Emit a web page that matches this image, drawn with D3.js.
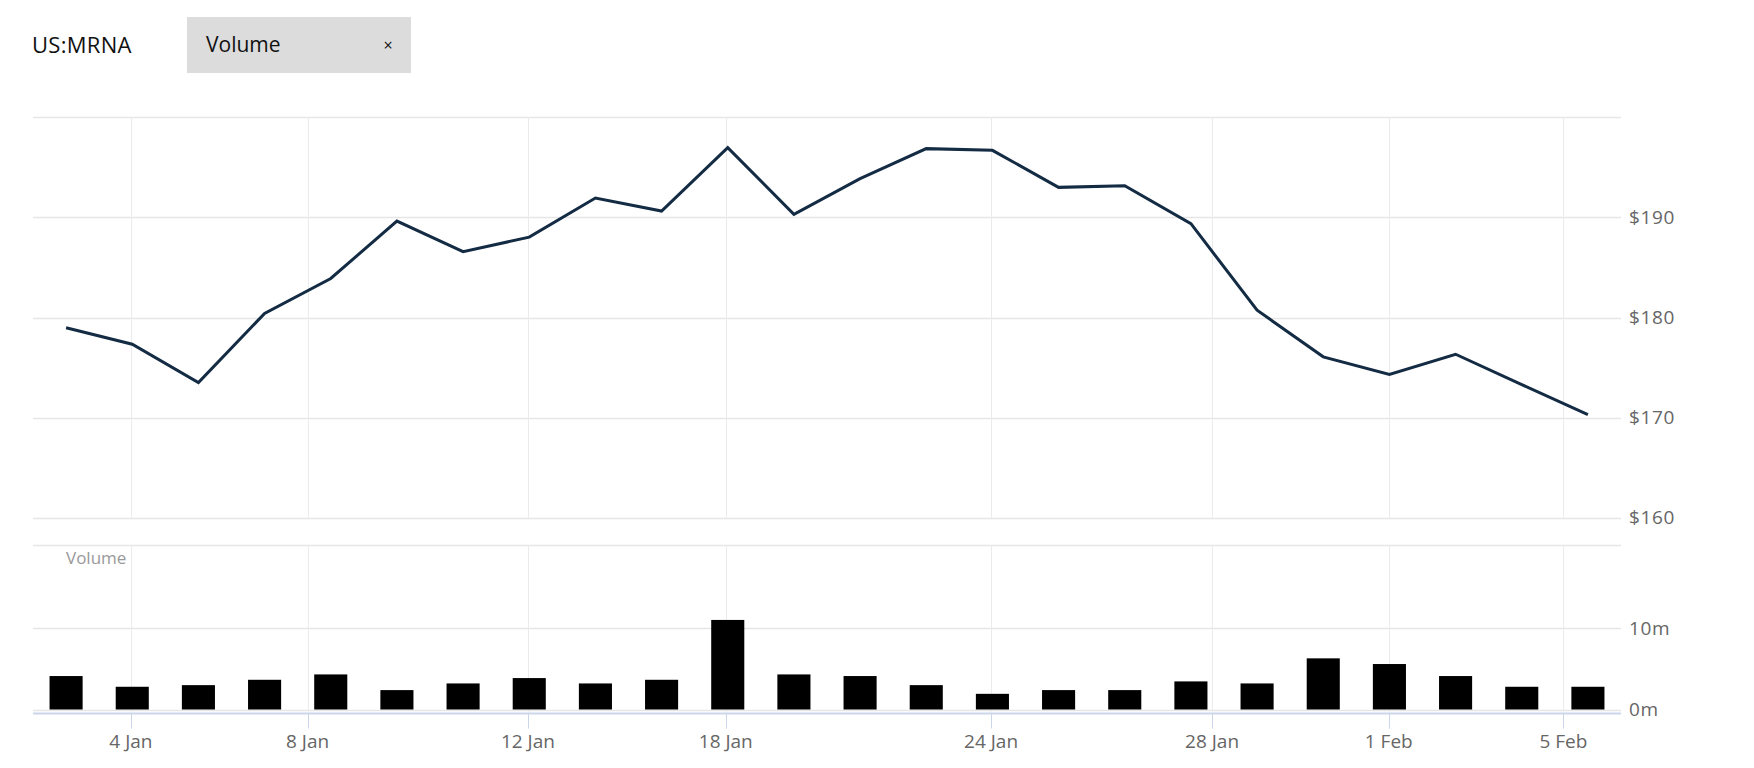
<!DOCTYPE html>
<html>
<head>
<meta charset="utf-8">
<script src="https://cdn.jsdelivr.net/npm/d3@7"></script>
<style>
  html, body { margin: 0; padding: 0; background: #ffffff; }
  svg { display: block; font-family: "Open Sans", "Noto Sans", sans-serif; }
</style>
</head>
<body>
<svg id="chart" width="1754" height="768"></svg>
<script>
// ---- data ----
const symbol = "US:MRNA";
const indicatorName = "Volume";
const prices = [178.97, 177.33, 173.5, 180.4, 183.9, 189.63, 186.57, 188.03, 191.93, 190.63, 196.97, 190.3,
                193.87, 196.87, 196.7, 193.0, 193.17, 189.37, 180.73, 176.07, 174.3, 176.33, 173.3, 170.3];
const volumes = [4.12, 2.80, 3.0, 3.66, 4.32, 2.39, 3.21, 3.87, 3.21, 3.66, 11.03, 4.32,
                 4.12, 3.0, 1.93, 2.39, 2.39, 3.46, 3.21, 6.30, 5.60, 4.12, 2.80, 2.80]; // millions
const tickLabels = ["4 Jan", "8 Jan", "12 Jan", "18 Jan", "24 Jan", "28 Jan", "1 Feb", "5 Feb"];
const tickIndex = [0.98, 3.65, 6.98, 9.97, 13.98, 17.32, 19.99, 22.63]; // position in data-point units
const priceGrid = [160, 170, 180, 190, 200];
const priceLabels = [160, 170, 180, 190];
const volumeGrid = [0, 10];
const volumeLabels = [0, 10];

// ---- layout ----
const svg = d3.select("#chart");
const left = 33, right = 1621;
const priceTop = 117.3, priceBottom = 517.7;
const volTop = 545.5, volBottom = 709.5, axisY = 713.5;

const x = d3.scaleLinear().domain([-0.5, prices.length - 0.5]).range([left, right]);
const yP = d3.scaleLinear().domain([160, 200]).range([priceBottom, priceTop]);
const yV = d3.scaleLinear().domain([0, 10]).range([volBottom, 628.3]);
const barW = (x(1) - x(0)) * 0.5;

const gridColor = "#e6e6e6";
const labelColor = "#666666";

// ---- header ----
svg.append("text").attr("x", 32).attr("y", 45).attr("dy", "0.35em")
  .attr("font-size", 22).attr("letter-spacing", 0.3).attr("fill", "#111").text(symbol);
svg.append("rect").attr("x", 187).attr("y", 17).attr("width", 224).attr("height", 56).attr("fill", "#dcdcdc");
svg.append("text").attr("x", 206).attr("y", 45).attr("dy", "0.35em")
  .attr("font-size", 21).attr("fill", "#111").text(indicatorName);
svg.append("text").attr("x", 388).attr("y", 45).attr("dy", "0.35em").attr("text-anchor", "middle")
  .attr("font-size", 16).attr("fill", "#111").text("×");

// ---- price panel grid ----
const gP = svg.append("g");
gP.selectAll("line.h").data(priceGrid).join("line")
  .attr("x1", left).attr("x2", right)
  .attr("y1", d => Math.round(yP(d)) + 0.5).attr("y2", d => Math.round(yP(d)) + 0.5)
  .attr("stroke", gridColor).attr("stroke-width", 1.5);
gP.selectAll("line.v").data(tickIndex).join("line")
  .attr("x1", d => Math.round(x(d)) + 0.5).attr("x2", d => Math.round(x(d)) + 0.5)
  .attr("y1", priceTop).attr("y2", priceBottom)
  .attr("stroke", "#ebebeb").attr("stroke-width", 1);
gP.selectAll("text").data(priceLabels).join("text")
  .attr("x", 1629).attr("y", d => yP(d)).attr("dy", "0.35em")
  .attr("font-size", 19).attr("letter-spacing", 0.6).attr("fill", labelColor)
  .text(d => "$" + d);

// ---- volume panel grid ----
const gV = svg.append("g");
gV.append("line").attr("x1", left).attr("x2", right).attr("y1", volTop).attr("y2", volTop)
  .attr("stroke", gridColor).attr("stroke-width", 1.5);
gV.selectAll("line.h").data(volumeGrid).join("line")
  .attr("x1", left).attr("x2", right)
  .attr("y1", d => Math.round(yV(d)) + 0.5).attr("y2", d => Math.round(yV(d)) + 0.5)
  .attr("stroke", gridColor).attr("stroke-width", 1.5);
gV.selectAll("line.v").data(tickIndex).join("line")
  .attr("x1", d => Math.round(x(d)) + 0.5).attr("x2", d => Math.round(x(d)) + 0.5)
  .attr("y1", volTop).attr("y2", axisY)
  .attr("stroke", "#ebebeb").attr("stroke-width", 1);
gV.selectAll("text").data(volumeLabels).join("text")
  .attr("x", 1629).attr("y", d => yV(d)).attr("dy", "0.35em")
  .attr("font-size", 19).attr("letter-spacing", 0.6).attr("fill", labelColor)
  .text(d => d + "m");
svg.append("text").attr("x", 66).attr("y", 558).attr("dy", "0.35em")
  .attr("font-size", 17).attr("fill", "#999999").text("Volume");

// ---- bars ----
svg.append("g").selectAll("rect").data(volumes).join("rect")
  .attr("x", (d, i) => x(i) - barW / 2)
  .attr("y", d => yV(d))
  .attr("width", barW)
  .attr("height", d => yV(0) - yV(d))
  .attr("fill", "#000000");

// ---- x axis ----
svg.append("line").attr("x1", left).attr("x2", right).attr("y1", axisY).attr("y2", axisY)
  .attr("stroke", "#ccd6eb").attr("stroke-width", 2);
const gX = svg.append("g");
gX.selectAll("line").data(tickIndex).join("line")
  .attr("x1", d => Math.round(x(d)) + 0.5).attr("x2", d => Math.round(x(d)) + 0.5)
  .attr("y1", axisY).attr("y2", axisY + 15)
  .attr("stroke", "#ccd6eb").attr("stroke-width", 1);
gX.selectAll("text").data(tickIndex).join("text")
  .attr("x", d => x(d)).attr("y", 741).attr("dy", "0.35em").attr("text-anchor", "middle")
  .attr("font-size", 19).attr("fill", labelColor)
  .text((d, i) => tickLabels[i]);

// ---- price line ----
const line = d3.line().x((d, i) => x(i)).y(d => yP(d));
svg.append("path").datum(prices)
  .attr("d", line)
  .attr("fill", "none")
  .attr("stroke", "#142b44")
  .attr("stroke-width", 3)
  .attr("stroke-linejoin", "miter");
</script>
</body>
</html>
